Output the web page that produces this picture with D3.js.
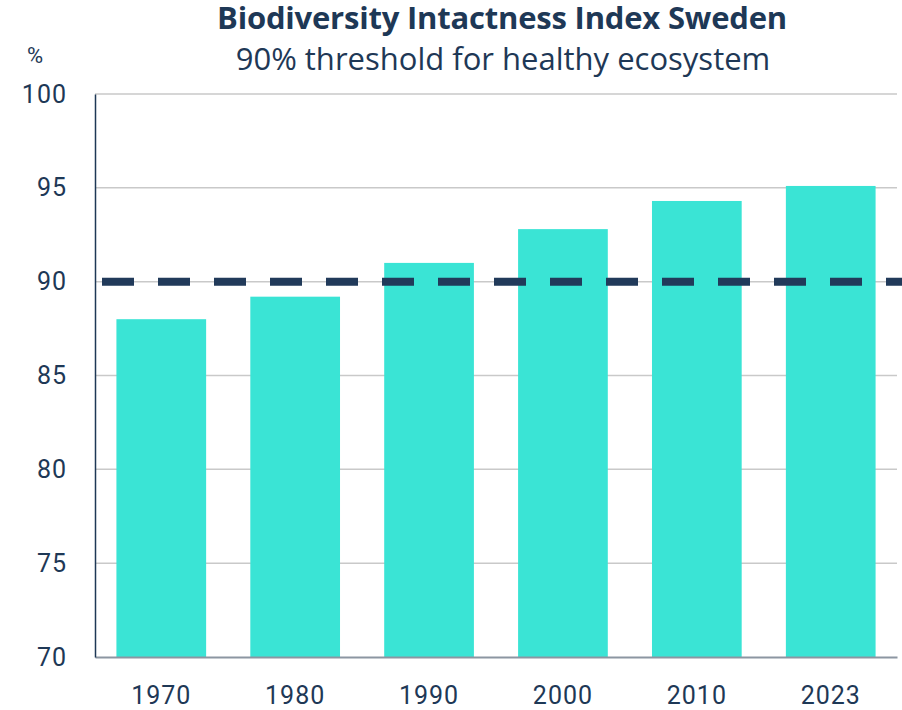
<!DOCTYPE html>
<html>
<head>
<meta charset="utf-8">
<script src="https://cdn.jsdelivr.net/npm/d3@7"></script>
<style>
  body { margin: 0; background: #fff; }
  text { font-family: Roboto, "Open Sans", sans-serif; fill: #1e3856; }
</style>
</head>
<body>
<div id="chart"></div>
<script>
// dati
const years = ["1970", "1980", "1990", "2000", "2010", "2023"];
const bii = [88.0, 89.2, 91.0, 92.8, 94.3, 95.1];
const yTicks = [70, 75, 80, 85, 90, 95, 100];
const threshold = 90;

const width = 902;
const height = 710;

const svg = d3.select("#chart")
	.append("svg")
	.attr("width", width)
	.attr("height", height);

const x = d3.scaleBand()
	.domain(years)
	.range([95, 897])
	.paddingInner(0.33)
	.paddingOuter(0.16);

const y = d3.scaleLinear()
	.domain([70, 100])
	.range([657, 94]);

// griglia
svg.append("g")
	.selectAll("line")
	.data(yTicks.filter(d => d > 70))
	.enter().append("line")
	.attr("x1", 95)
	.attr("x2", 897)
	.attr("y1", d => y(d))
	.attr("y2", d => y(d))
	.attr("stroke", "#c9c9c9")
	.attr("stroke-width", 1.5);

// barre
svg.append("g")
	.selectAll("rect")
	.data(years)
	.enter().append("rect")
	.attr("x", d => x(d))
	.attr("width", x.bandwidth())
	.attr("y", (d, i) => y(bii[i]))
	.attr("height", (d, i) => y(70) - y(bii[i]))
	.attr("fill", "#3ae4d5");

// soglia 90%
svg.append("line")
	.attr("x1", 102)
	.attr("x2", width)
	.attr("y1", y(threshold))
	.attr("y2", y(threshold))
	.attr("stroke", "#213a5a")
	.attr("stroke-width", 8)
	.attr("stroke-dasharray", "32,24");

// asse x
const xAxis = svg.append("g")
	.attr("transform", `translate(0,${y(70)})`)
	.call(d3.axisBottom(x).tickSize(0).tickPadding(29));
xAxis.select(".domain").attr("stroke", "#8c96a2").attr("stroke-width", 2);
xAxis.selectAll("text").attr("font-size", 25).style("letter-spacing", "1px");

// asse y
const yAxis = svg.append("g")
	.attr("transform", "translate(95,0)")
	.call(d3.axisLeft(y).tickValues(yTicks).tickSize(0).tickPadding(28));
yAxis.select(".domain").attr("stroke", "#1e3856").attr("stroke-width", 1.5);
yAxis.selectAll("text").attr("font-size", 25).style("letter-spacing", "1px");

// titoli
svg.append("text")
	.attr("x", 502)
	.attr("y", 29)
	.attr("text-anchor", "middle")
	.attr("font-size", 31)
	.attr("font-weight", "bold")
	.style("font-family", "'Open Sans', sans-serif")
	.style("letter-spacing", "-0.2px")
	.text("Biodiversity Intactness Index Sweden");

svg.append("text")
	.attr("x", 503)
	.attr("y", 70)
	.attr("text-anchor", "middle")
	.attr("font-size", 31)
	.style("font-family", "'Open Sans', sans-serif")
	.text("90% threshold for healthy ecosystem");

svg.append("text")
	.attr("x", 35)
	.attr("y", 63)
	.attr("text-anchor", "middle")
	.attr("font-size", 22)
	.text("%");
</script>
</body>
</html>
